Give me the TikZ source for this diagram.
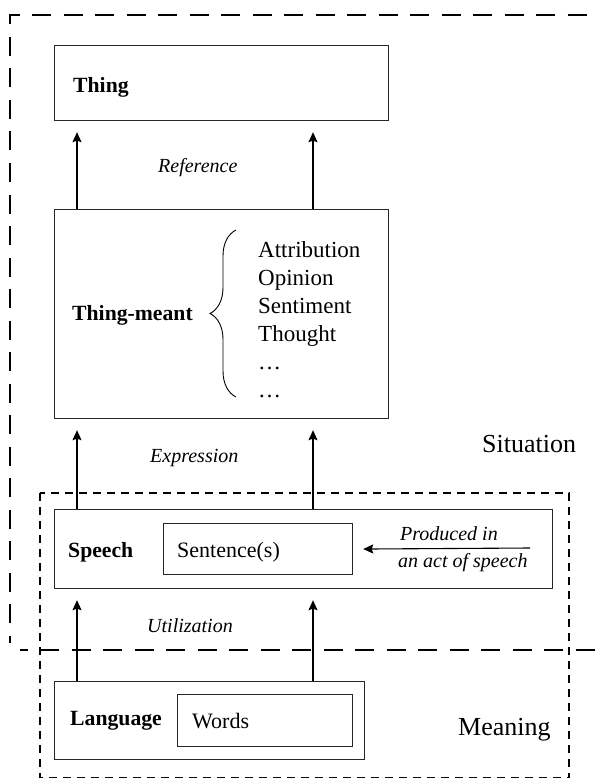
\documentclass[tikz,border=0pt]{standalone}
\usepackage{fontspec}
\setmainfont{Liberation Serif}
\usetikzlibrary{arrows.meta,positioning,decorations.pathreplacing}

\begin{document}
\begin{tikzpicture}[x=1pt,y=-1pt,
    box/.style={draw=black!85,line width=1.2pt,inner sep=0pt,anchor=north west},
    lbl/.style={inner sep=0pt,anchor=base west,font=\fontsize{22}{26}\selectfont},
    item/.style={lbl,font=\fontsize{23}{27}\selectfont},
    head/.style={lbl,font=\fontsize{21.7}{26}\selectfont\bfseries},
    note/.style={lbl,font=\fontsize{20}{24}\selectfont\itshape},
    area/.style={lbl,font=\fontsize{26}{30}\selectfont},
    arr/.style={-{Stealth[length=10pt,width=9pt,inset=1.5pt]},line width=1.1pt,shorten >=11pt},
    situation/.style={line width=2.4pt,dash pattern=on 19pt off 12.5pt,dash phase=11.5pt},
    meaning/.style={line width=1.8pt,dash pattern=on 8pt off 6pt}]
  \useasboundingbox (0,0) rectangle (595,778);

  % frames
  \draw[situation] (10,643) -- (10,15) -- (595,15);
  \draw[situation] (20,650) -- (595,650);
  \draw[meaning] (40,493) rectangle (569,778.3);

  % boxes
  \node[box,minimum width=334pt,minimum height=75pt] (thing) at (54,45) {};
  \node[box,minimum width=334pt,minimum height=209pt] (meant) at (54,209) {};
  \node[box,minimum width=498pt,minimum height=79pt] (speech) at (54,509) {};
  \node[box,minimum width=189pt,minimum height=51pt] (sentence) at (163,523) {};
  \node[box,minimum width=310pt,minimum height=78pt] (language) at (54,681) {};
  \node[box,minimum width=175pt,minimum height=52pt] (words) at (177,694) {};

  % texts
  \node[head] (thinglbl) at (73,93) {Thing};
  \node[head] (meantlbl) at (72,320) {Thing-meant};
  \foreach \w [count=\i] in {Attribution,Opinion,Sentiment,Thought,\ldots,\ldots}
    \node[item] (item\i) at (258,{229+28*\i}) {\w};
  \draw[decorate,decoration={brace,amplitude=26pt},line width=0.9pt] (236,397) -- (236,230);
  \node[note] (reflbl) at (158,172) {Reference};
  \node[note] (exprlbl) at (150,462) {Expression};
  \node[area] (sitlbl) at (482,452) {Situation};
  \node[head] (speechlbl) at (68,557) {Speech};
  \node[lbl] (sentlbl) at (177,557) {Sentence(s)};
  \node[note] (prodlbl) at (400,540) {Produced in};
  \node[note] (actlbl) at (398,567) {an act of speech};
  \node[note] (utillbl) at (147,632) {Utilization};
  \node[head] (langlbl) at (70,725) {Language};
  \node[lbl] (wordslbl) at (192,728) {Words};
  \node[area] (meaninglbl) at (458,735) {Meaning};

  % arrows
  \foreach \dx in {23,259} {
    \draw[arr] ([xshift=\dx pt]meant.north west) -- ([xshift=\dx pt]thing.south west);
    \draw[arr] ([xshift=\dx pt]speech.north west) -- ([xshift=\dx pt]meant.south west);
    \draw[arr] ([xshift=\dx pt]language.north west) -- ([xshift=\dx pt]speech.south west);
  }
  \coordinate (prod) at (530,548);
  \draw[arr,shorten >=10pt] (prod) -- (sentence.east);
\end{tikzpicture}
\end{document}
